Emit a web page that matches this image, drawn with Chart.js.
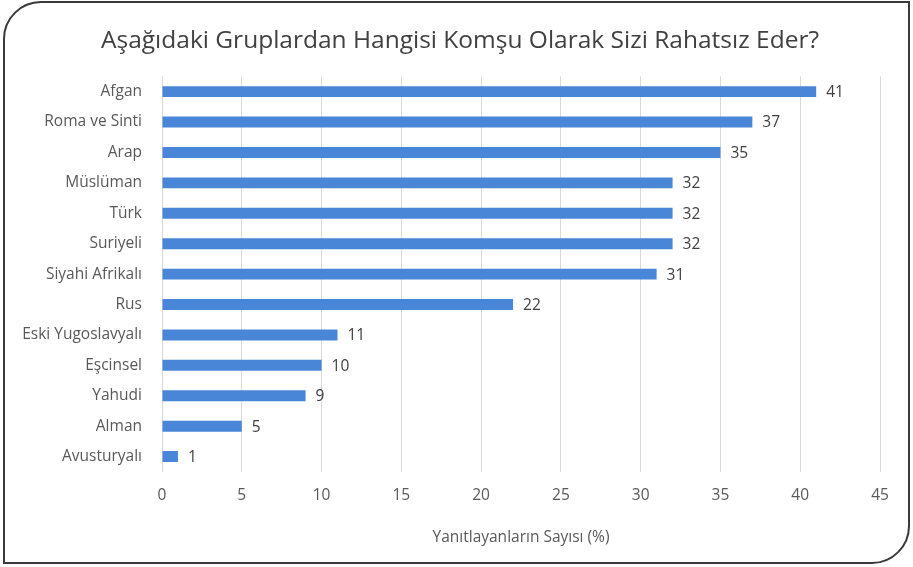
<!DOCTYPE html>
<html>
<head>
<meta charset="utf-8">
<script src="https://cdn.jsdelivr.net/npm/chart.js@4"></script>
<style>
  body { margin: 0; background: #fff; }
  #wrap { position: relative; width: 913px; height: 567px; }
  #frame {
    position: absolute; left: 3px; top: 1px; width: 903px; height: 559px;
    border: 2px solid #3a3a3a;
    border-top-left-radius: 38px; border-bottom-right-radius: 38px;
    pointer-events: none;
  }
  canvas { position: absolute; left: 0; top: 0; }
</style>
</head>
<body>
<div id="wrap">
  <canvas id="chart" width="913" height="567"></canvas>
  <div id="frame"></div>
</div>
<script>
const gruplar = ['Afgan', 'Roma ve Sinti', 'Arap', 'Müslüman', 'Türk', 'Suriyeli', 'Siyahi Afrikalı',
  'Rus', 'Eski Yugoslavyalı', 'Eşcinsel', 'Yahudi', 'Alman', 'Avusturyalı'];
const oranlar = [41, 37, 35, 32, 32, 32, 31, 22, 11, 10, 9, 5, 1];
const eksenMax = 45;
const eksenAdim = 5;

const fontAile = "'Open Sans', 'Noto Sans', sans-serif";

// bar sonuna değer yaz
const degerEtiketi = {
  id: 'degerEtiketi',
  afterLayout(chart) {
    // başlığı biraz sağa kaydır
    if (chart.titleBlock) chart.titleBlock.left = 40;
  },
  afterDatasetsDraw(chart) {
    const ctx = chart.ctx;
    const meta = chart.getDatasetMeta(0);
    ctx.save();
    ctx.font = '15.5px ' + fontAile;
    ctx.fillStyle = '#404040';
    ctx.textAlign = 'left';
    ctx.textBaseline = 'middle';
    meta.data.forEach((bar, i) => {
      ctx.fillText(String(oranlar[i]), bar.x + 10, bar.y + 1);
    });
    ctx.restore();
  }
};

new Chart(document.getElementById('chart'), {
  type: 'bar',
  data: {
    labels: gruplar,
    datasets: [{
      data: oranlar,
      backgroundColor: '#4a86d8',
      barPercentage: 0.72,
      categoryPercentage: 0.5
    }]
  },
  options: {
    indexAxis: 'y',
    responsive: false,
    animation: false,
    layout: { padding: { left: 0, right: 33, top: 0, bottom: 20 } },
    plugins: {
      legend: { display: false },
      tooltip: { enabled: false },
      title: {
        display: true,
        text: 'Aşağıdaki Gruplardan Hangisi Komşu Olarak Sizi Rahatsız Eder?',
        color: '#404040',
        font: { family: fontAile, size: 24.5, weight: 'normal' },
        padding: { top: 26, bottom: 21 }
      }
    },
    scales: {
      x: {
        min: 0,
        max: eksenMax,
        ticks: { stepSize: eksenAdim, color: '#595959', padding: 14,
          font: { family: fontAile, size: 15.5 } },
        grid: { color: '#d9d9d9', drawTicks: false },
        border: { display: false },
        title: {
          display: true,
          text: 'Yanıtlayanların Sayısı (%)',
          color: '#595959',
          font: { family: fontAile, size: 15.5 },
          padding: { top: 10, bottom: 0 }
        }
      },
      y: {
        afterFit(scale) { scale.width = 162; },
        ticks: { color: '#595959', padding: 12, font: { family: fontAile, size: 15.5 } },
        grid: { display: false },
        border: { display: true, color: '#d9d9d9' }
      }
    }
  },
  plugins: [degerEtiketi]
});
</script>
</body>
</html>
